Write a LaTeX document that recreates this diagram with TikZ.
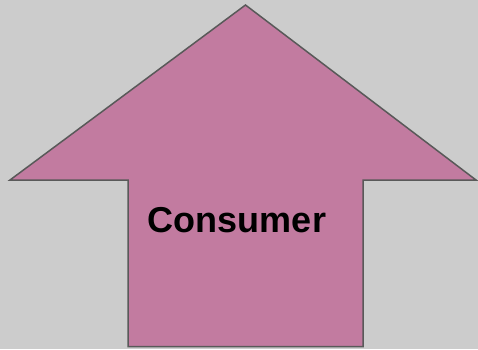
\documentclass[tikz,border=0pt]{standalone}
\usepackage{fontspec}
\setmainfont{Liberation Sans}
\definecolor{bg}{HTML}{CCCCCC}
\definecolor{pinkfill}{HTML}{C27BA0}
\definecolor{edge}{HTML}{595959}
\begin{document}
\begin{tikzpicture}[x=1pt,y=-1pt,
  arrowshape/.style={fill=pinkfill,draw=edge,line width=1.5pt,line join=miter},
  label/.style={font=\bfseries\fontsize{36}{40}\selectfont,text=black,inner sep=0pt}]
\fill[bg] (0,0) rectangle (478,349);
\useasboundingbox (0,0) rectangle (478,349);
\draw[arrowshape] (245.5,5) -- (476,180) -- (363,180) -- (363,346.5) -- (128,346.5) -- (128,180) -- (10,180) -- cycle;
\node[label] (t) at (237,220) {Consumer};
\end{tikzpicture}
\end{document}
